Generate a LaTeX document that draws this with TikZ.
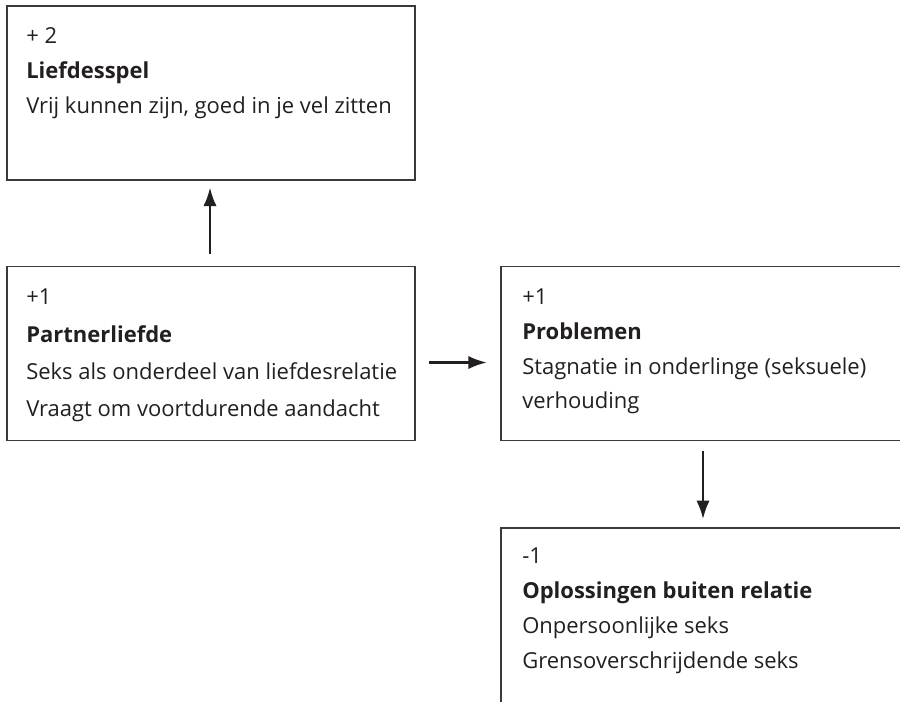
\documentclass[tikz,border=0pt]{standalone}
\usepackage{fontspec}
\setmainfont{Open Sans}
\usetikzlibrary{arrows.meta}
\definecolor{ink}{HTML}{231F20}
\definecolor{frame}{HTML}{3A3A3A}

\begin{document}
\begin{tikzpicture}[x=0.75pt,y=-0.75pt,>={Latex[length=14pt,width=10pt]},
		box/.style={draw=frame, line width=1.1pt, minimum width=306pt, minimum height=130.5pt, inner sep=0pt},
		txt/.style={anchor=base west, inner sep=0pt, text=ink, font=\fontsize{16.5}{19}\selectfont},
		head/.style={txt, font=\fontsize{16.5}{19}\selectfont\bfseries},
		link/.style={->, ink, line width=2pt}]
		\useasboundingbox (0,0) rectangle (900,701);
		\clip (0,0) rectangle (900,701);
		% boxes
		\node[box] (lief) at (211,93) {};
		\node[box] (partner) at (211,353.5) {};
		\node[box] (probl) at (705,353.5) {};
		\node[box, minimum height=180pt] (oplos) at (705,648) {};
		% texts
		\node[txt] (t1a) at (26,43) {+ 2};
		\node[head] (t1b) at (26,78) {Liefdesspel};
		\node[txt] (t1c) at (26,113) {Vrij kunnen zijn, goed in je vel zitten};
		\node[txt] (t2a) at (26,304) {+1};
		\node[head] (t2b) at (26,342) {Partnerliefde};
		\node[txt] (t2c) at (26,379) {Seks als onderdeel van liefdesrelatie};
		\node[txt] (t2d) at (26,416) {Vraagt om voortdurende aandacht};
		\node[txt] (t3a) at (522,304) {+1};
		\node[head] (t3b) at (522,339) {Problemen};
		\node[txt] (t3c) at (522,374) {Stagnatie in onderlinge (seksuele)};
		\node[txt] (t3d) at (522,408) {verhouding};
		\node[txt] (t4a) at (522,563) {-1};
		\node[head] (t4b) at (522,598) {Oplossingen buiten relatie};
		\node[txt] (t4c) at (522,633) {Onpersoonlijke seks};
		\node[txt] (t4d) at (522,668) {Grensoverschrijdende seks};
		% arrows
		\draw[link, shorten <=9pt, shorten >=5pt] ([xshift=-0.75pt]partner.north) -- ([xshift=-0.75pt]lief.south);
		\draw[link, shorten <=10pt, shorten >=10pt] ([yshift=-6.75pt]partner.east) -- ([yshift=-6.75pt]probl.west);
		\draw[link, shorten <=7pt, shorten >=6pt] ([xshift=-1.5pt]probl.south) -- ([xshift=-1.5pt]oplos.north);
	\end{tikzpicture}
\end{document}
